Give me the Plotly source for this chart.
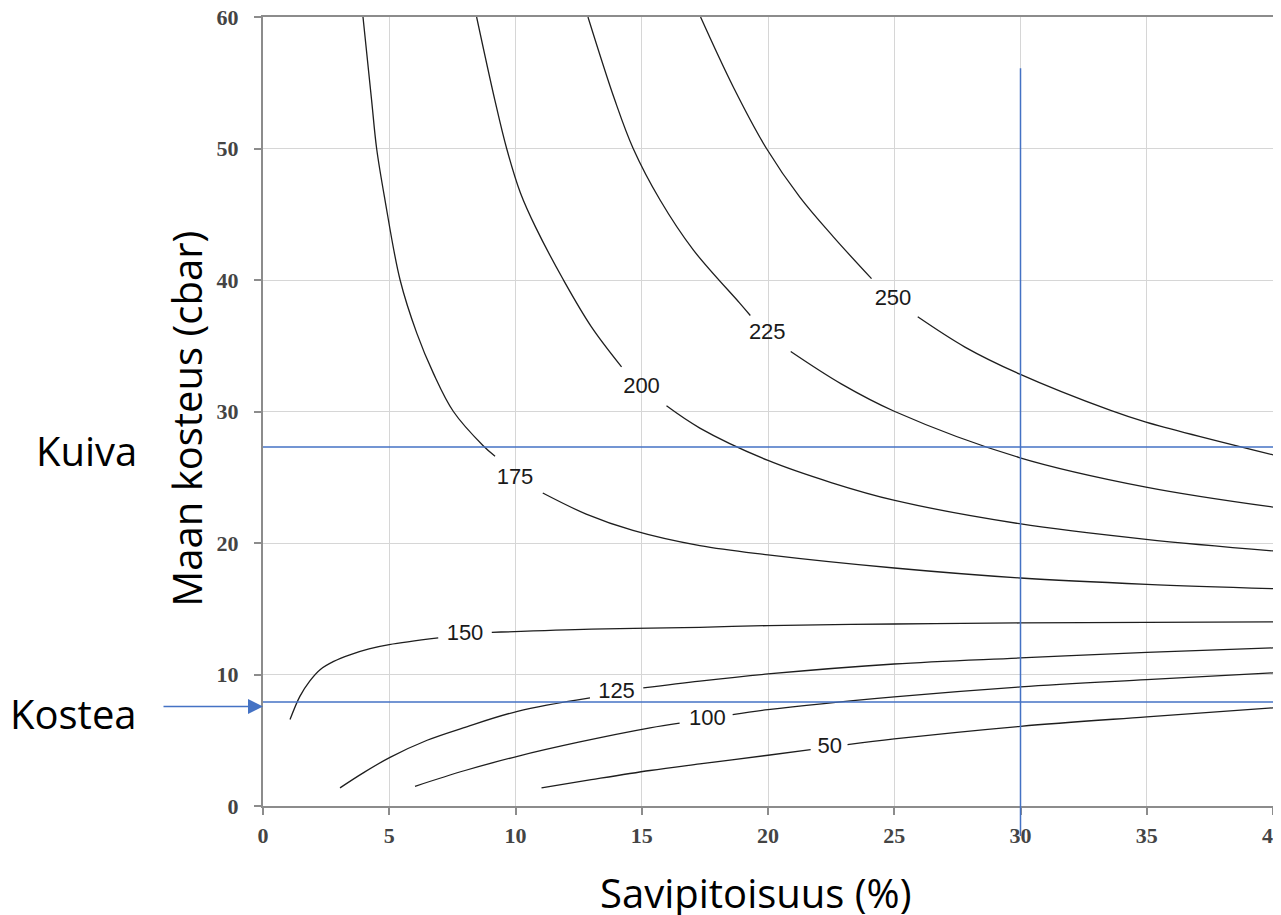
import plotly.graph_objects as go

# ---- data ----
x_ticks = [0, 5, 10, 15, 20, 25, 30, 35, 40]
y_ticks = [0, 10, 20, 30, 40, 50, 60]

# Each curve: segment before its label, label position, segment after its label
c50_a_x = [11.03, 13.0, 15.33, 17.3, 20.0, 21.69]
c50_a_y = [1.38, 2.0, 2.7, 3.2, 3.86, 4.29]
c50_lab = (22.45, 4.45)
c50_b_x = [23.15, 25.0, 30.0, 35.0, 40.0]
c50_b_y = [4.67, 5.1, 6.06, 6.78, 7.46]

c100_a_x = [6.02, 8.0, 10.08, 12.5, 15.33, 16.5]
c100_a_y = [1.5, 2.7, 3.78, 4.85, 5.94, 6.3]
c100_lab = (17.6, 6.6)
c100_b_x = [18.6, 20.0, 25.0, 30.0, 35.0, 40.0]
c100_b_y = [6.95, 7.33, 8.3, 9.06, 9.61, 10.12]

c125_a_x = [3.05, 3.97, 5.03, 6.5, 7.93, 10.08, 12.95]
c125_a_y = [1.38, 2.52, 3.7, 5.0, 5.94, 7.2, 8.22]
c125_lab = (14.0, 8.6)
c125_b_x = [15.06, 17.3, 20.0, 25.0, 30.0, 35.0, 40.0]
c125_b_y = [8.98, 9.5, 10.04, 10.8, 11.26, 11.69, 12.02]

c150_a_x = [1.07, 1.46, 1.85, 2.26, 2.8, 3.44, 4.2, 5.0, 6.94]
c150_a_y = [6.57, 8.34, 9.5, 10.37, 11.0, 11.5, 11.95, 12.27, 12.78]
c150_lab = (8.0, 13.03)
c150_b_x = [9.06, 13.0, 17.3, 20.0, 25.0, 30.0, 40.0]
c150_b_y = [13.2, 13.45, 13.59, 13.72, 13.84, 13.92, 14.0]

c175_a_x = [3.96, 4.3, 4.5, 4.83, 5.43, 6.09, 6.75, 7.54, 8.72, 9.19]
c175_a_y = [60.0, 53.7, 50.0, 46.1, 40.0, 35.96, 32.9, 30.0, 27.4, 26.6]
c175_lab = (9.98, 24.9)
c175_b_x = [11.08, 12.8, 14.65, 17.3, 20.0, 25.0, 30.0, 35.0, 40.0]
c175_b_y = [23.8, 22.2, 20.96, 19.8, 19.1, 18.1, 17.34, 16.86, 16.53]

c200_a_x = [8.46, 9.18, 9.65, 10.2, 10.8, 11.9, 13.0, 14.2]
c200_a_y = [60.0, 53.7, 50.0, 46.6, 44.0, 40.0, 36.46, 33.4]
c200_lab = (14.99, 31.8)
c200_b_x = [15.98, 17.3, 20.0, 22.5, 25.02, 29.95, 34.97, 40.0]
c200_b_y = [30.43, 28.74, 26.28, 24.6, 23.24, 21.47, 20.28, 19.4]

c225_a_x = [12.87, 13.93, 14.66, 15.72, 17.04, 18.88, 19.3]
c225_a_y = [60.0, 53.7, 50.0, 46.1, 42.29, 38.24, 37.3]
c225_lab = (19.97, 35.9)
c225_b_x = [20.9, 22.9, 25.02, 29.95, 34.97, 40.0]
c225_b_y = [34.56, 32.1, 30.0, 26.5, 24.25, 22.73]

c250_a_x = [17.33, 18.62, 19.94, 21.26, 22.58, 24.1]
c250_a_y = [60.0, 54.7, 50.0, 46.3, 43.3, 40.1]
c250_lab = (24.95, 38.5)
c250_b_x = [25.93, 27.8, 29.95, 33.57, 34.97, 40.0]
c250_b_y = [37.2, 34.9, 32.86, 30.08, 29.19, 26.7]

curves = [
    ("50", c50_a_x, c50_a_y, c50_lab, c50_b_x, c50_b_y),
    ("100", c100_a_x, c100_a_y, c100_lab, c100_b_x, c100_b_y),
    ("125", c125_a_x, c125_a_y, c125_lab, c125_b_x, c125_b_y),
    ("150", c150_a_x, c150_a_y, c150_lab, c150_b_x, c150_b_y),
    ("175", c175_a_x, c175_a_y, c175_lab, c175_b_x, c175_b_y),
    ("200", c200_a_x, c200_a_y, c200_lab, c200_b_x, c200_b_y),
    ("225", c225_a_x, c225_a_y, c225_lab, c225_b_x, c225_b_y),
    ("250", c250_a_x, c250_a_y, c250_lab, c250_b_x, c250_b_y),
]

kuiva_y = 27.3     # "Kuiva" (dry) threshold line
kostea_y = 7.9     # "Kostea" (moist) threshold line
clay_ref_x = 30    # vertical reference line

BLUE = "#4472C4"
LINE = "#1e1e1e"

fig = go.Figure()
for name, ax_, ay_, lab, bx_, by_ in curves:
    for xs, ys in ((ax_, ay_), (bx_, by_)):
        fig.add_trace(go.Scatter(
            x=xs, y=ys, mode="lines",
            line=dict(color=LINE, width=1.3, shape="spline", smoothing=1.0),
            showlegend=False, hoverinfo="skip"))
    fig.add_trace(go.Scatter(
        x=[lab[0]], y=[lab[1]], mode="text", text=[name],
        textfont=dict(family="Liberation Sans", size=22, color="#1a1a1a"),
        showlegend=False, hoverinfo="skip", cliponaxis=False))

# blue reference lines
fig.add_shape(type="line", xref="paper", yref="y", x0=0, x1=1.02,
              y0=kuiva_y, y1=kuiva_y, line=dict(color=BLUE, width=1.5), layer="above")
fig.add_shape(type="line", xref="paper", yref="y", x0=0, x1=1.02,
              y0=kostea_y, y1=kostea_y, line=dict(color=BLUE, width=1.5), layer="above")
fig.add_shape(type="line", xref="x", yref="paper", x0=clay_ref_x, x1=clay_ref_x,
              y0=-0.038, y1=0.935, line=dict(color=BLUE, width=1.5), layer="above")

big_font = dict(family="Open Sans", size=40, color="#000000")
fig.add_annotation(text="Kuiva", xref="paper", yref="y", x=-0.1228, y=27.0,
                   xanchor="right", yanchor="middle", showarrow=False, font=big_font)
fig.add_annotation(text="Kostea", xref="paper", yref="y", x=-0.1228, y=7.0,
                   xanchor="right", yanchor="middle", showarrow=False, font=big_font)
# arrow pointing at the Kostea line
fig.add_annotation(text="", xref="paper", yref="y", x=0, y=7.56,
                   ax=-101, ay=0, showarrow=True, arrowhead=2, arrowsize=2,
                   arrowwidth=1.5, arrowcolor=BLUE)
# axis titles
fig.add_annotation(text="Savipitoisuus (%)", xref="paper", yref="paper",
                   x=0.4876, y=-0.109, xanchor="center", yanchor="middle",
                   showarrow=False, font=big_font)
fig.add_annotation(text="Maan kosteus (cbar)", xref="paper", yref="paper",
                   x=-0.0752, y=0.491, xanchor="center", yanchor="middle",
                   textangle=-90, showarrow=False, font=big_font)

tick_font = dict(family="Liberation Serif", size=22, color="#444444", weight="bold")
axis_common = dict(
    showgrid=True, gridcolor="#d6d6d6", gridwidth=1,
    showline=True, mirror=True, linecolor="#8c8c8c", linewidth=2,
    ticks="outside", ticklen=7, tickcolor="#8c8c8c", tickwidth=1.5,
    zeroline=False, tickfont=tick_font, automargin=False,
    ticklabeloverflow="allow",
)

# page body has an 8px default margin, so the figure is sized/offset to compensate
fig.update_layout(
    template="none",
    width=1273, height=907,
    margin=dict(l=255, r=8, t=9, b=109),
    paper_bgcolor="white", plot_bgcolor="white",
    xaxis=dict(range=[0, 40], tickvals=x_ticks, ticklabelstandoff=2, **axis_common),
    yaxis=dict(range=[0, 60], tickvals=y_ticks, ticklabelstandoff=11, **axis_common),
)

fig.write_html("out.html")
